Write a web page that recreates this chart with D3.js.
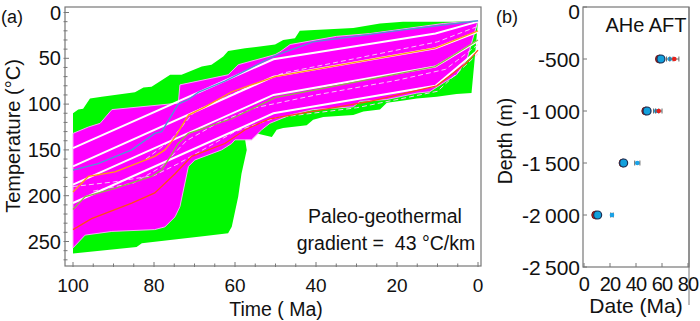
<!DOCTYPE html>
<meta charset="utf-8">
<html>
<style>
  body { margin: 0; background: #fff; }
  svg text { font-family: Arial, "Liberation Sans", sans-serif; fill: #111; }
  .frame { fill: none; stroke: #777; stroke-width: 1.2px; }
  .tick { stroke: #777; stroke-width: 1px; }
</style>
<body>
<svg width="700" height="321"></svg>
<script src="https://cdn.jsdelivr.net/npm/d3@7"></script>
<script>

// ---- panel (a): thermal history envelopes, [time Ma, temperature C]
var greenTop = [[100,110],[98.7,106],[97.5,105],[95.8,94],[92.9,92],[84.7,87],[82.6,82],[80.6,81],
  [76,68],[73.2,68],[68.2,59],[65.8,57],[62.9,48],[61.7,42],[57.5,39],[50.1,35],[48.1,30],
  [45.2,28],[44,20],[30.8,17],[24.2,12],[18.5,10],[6.2,10],[0,9]];
var greenBottom = [[0,9],[0.8,50],[1.6,88],[5.3,89],[10.2,92],[15.1,94],[18.4,96],[22.5,98.5],
  [24.2,106],[28.3,108],[30.8,112],[38.2,114],[40.7,117],[42.3,123],[48.1,126],[49.7,128],
  [50.9,136],[54.6,132],[57.5,139],[57.1,150],[58.4,176],[59.2,201],[60.8,234],[61.7,241],
  [67.4,244],[83,252],[84.3,256],[100,263]];
var magentaTop = [[100,132],[96.2,125],[93.3,121],[90.4,106],[74,99],[73.6,79],[61.7,68],
  [59.2,57],[50.1,46],[48.9,43],[46.4,35],[34.9,26],[26.7,23],[16.8,17],[8.6,12],[0,9]];
var magentaBottom = [[0,9],[2.8,52],[5.3,68],[8.6,77],[11.9,86.5],[15.1,88],[22.5,95],[29.1,97],
  [30.8,103],[40.7,106],[46.4,112],[51.4,121],[53.4,128],[55.9,139],[60,139],[60.8,143],
  [63.3,150],[69.9,161],[71.5,168],[73.6,212],[74.8,223],[77.3,234],[79.8,237],[90.4,239],
  [97,243],[100,257]];

// white lines: constant-gradient paths for the four samples
var whiteTimes = [100, 50.5, 10.5, 0];
var whiteTemps = [[148,51,23,10],[168,70,39,21],[188,90,59,31],[208,110,80,41]];

// best-fit paths
var bluePath = [[100,172],[93.8,165],[85.5,150],[79.8,132],[78.1,130],[74,100],[71.5,95],[69,87],
  [62.5,75],[56.3,61],[50.1,47],[40.7,32],[18.4,19],[0,9]];
var orangePath = [[100,196],[96.2,179],[89.6,174],[79.8,157],[77.3,150],[74.8,136],[71.5,112],
  [67.4,103],[60.8,86.5],[50.1,70],[10.6,39],[0,20]];
var olivePath = [[100,215],[97,201],[89.6,192],[80.6,179],[78.1,172],[76.5,161],[74,143],
  [71.5,132],[67.4,126],[60.8,116],[50.1,93],[10.6,59],[0,30]];
var redPath = [[100,237],[95.4,225],[85.5,208],[79.8,197],[74.8,176],[70.7,157],[62.5,143],
  [57.5,128],[51.4,116],[26.7,97],[10.2,80],[2.8,55],[0,41]];
var dashPaths = [
  [[82,160],[76,140],[70,108],[64,96],[56,80],[48,66],[30,50],[10,32],[0,15]],
  [[95,195],[85,186],[78,168],[72,140],[64,120],[55,104],[40,90],[20,74],[8,62],[0,35]],
  [[100,190],[90,185],[80,178],[74,165],[68,150],[60,130],[50,115],[30,104],[10,86],[0,45]]
];
var pathColors = ["#4f97d6", "#ff9e14", "#8fb547", "#ff4a1a"];

var xTicks = [100, 80, 60, 40, 20, 0];
var yTicks = [0, 50, 100, 150, 200, 250];

// ---- panel (b): ages vs depth
var depths = [-500, -1000, -1500, -2000];
var aheRed = [58, 47.5, 30, 9];
var aheBlue = [59.2, 48.5, 30.5, 10.5];
var aftBlue = [66, 55.5, 41, 21.5];
var aftErr = [2.5, 2, 2, 1];
var aftRed = [69.5, 57.5, null, null];
var aftRedErr = [3.5, 2.5, 0, 0];
var depthTicks = [0, -500, -1000, -1500, -2000, -2500];
var depthLabels = ["0", "-500", "-1\u2009000", "-1\u2009500", "-2\u2009000", "-2\u2009500"];
var dateTicks = [0, 20, 40, 60, 80];

var svg = d3.select("svg");

// ------------------ panel (a)
var x = d3.scaleLinear().domain([100, 0]).range([73, 478]);
var y = d3.scaleLinear().domain([0, 250]).range([12.5, 241.5]);
var fa = {l: 65, r: 481, t: 7, b: 266};

svg.append("clipPath").attr("id", "clipA").append("rect")
  .attr("x", fa.l).attr("y", fa.t).attr("width", fa.r - fa.l).attr("height", fa.b - fa.t);

var ga = svg.append("g").attr("clip-path", "url(#clipA)");
var line = d3.line().x(function(d) { return x(d[0]); }).y(function(d) { return y(d[1]); });

ga.append("path").attr("d", line(greenTop.concat(greenBottom)) + "Z").attr("fill", "#00f800");
ga.append("path").attr("d", line(magentaTop.concat(magentaBottom)) + "Z")
  .attr("fill", "#ff00ff").attr("stroke", "#f7a8f7").attr("stroke-width", 1);

dashPaths.forEach(function(p) {
  ga.append("path").attr("d", line(p)).attr("fill", "none")
    .attr("stroke", "#f6c8f6").attr("stroke-width", 1).attr("stroke-dasharray", "5,3");
});

whiteTemps.forEach(function(temps) {
  var pts = whiteTimes.map(function(t, i) { return [t, temps[i]]; });
  ga.append("path").attr("d", line(pts)).attr("fill", "none")
    .attr("stroke", "#fff").attr("stroke-width", 2);
});

[bluePath, orangePath, olivePath, redPath].forEach(function(p, i) {
  ga.append("path").attr("d", line(p)).attr("fill", "none")
    .attr("stroke", pathColors[i]).attr("stroke-width", 1.3);
});

svg.append("rect").attr("class", "frame")
  .attr("x", fa.l).attr("y", fa.t).attr("width", fa.r - fa.l).attr("height", fa.b - fa.t);

// small ticks
d3.range(0, 101, 5).forEach(function(v) {
  var len = v % 20 === 0 ? 4 : 2.5;
  svg.append("line").attr("class", "tick")
    .attr("x1", x(v)).attr("x2", x(v)).attr("y1", fa.b + 1).attr("y2", fa.b - len);
});
d3.range(0, 271, 10).forEach(function(v) {
  var len = v % 50 === 0 ? 4 : 2.5;
  svg.append("line").attr("class", "tick")
    .attr("x1", fa.l - 1.5).attr("x2", fa.l + len).attr("y1", y(v)).attr("y2", y(v));
});

svg.selectAll(".xla").data(xTicks).enter().append("text")
  .attr("x", function(d) { return x(d); }).attr("y", 292)
  .attr("text-anchor", "middle").attr("font-size", 19).text(function(d) { return d; });
svg.selectAll(".yla").data(yTicks).enter().append("text")
  .attr("x", 61).attr("y", function(d) { return y(d) + 7; })
  .attr("text-anchor", "end").attr("font-size", 20).text(function(d) { return d; });

svg.append("text").attr("x", 276).attr("y", 316).attr("text-anchor", "middle")
  .attr("font-size", 19.5).text("Time ( Ma)");
svg.append("text").attr("transform", "translate(20,136) rotate(-90)")
  .attr("text-anchor", "middle").attr("font-size", 20).text("Temperature (\u00b0C)");
svg.append("text").attr("x", 1).attr("y", 23).attr("font-size", 18).text("(a)");
svg.append("text").attr("x", 385).attr("y", 223).attr("text-anchor", "middle")
  .attr("font-size", 19.5).text("Paleo-geothermal");
svg.append("text").attr("x", 386).attr("y", 250).attr("text-anchor", "middle")
  .attr("font-size", 19.5).attr("xml:space", "preserve").text("gradient =  43 \u00b0C/km");

// ------------------ panel (b)
var xr = d3.scaleLinear().domain([0, 80]).range([584, 688]);
var yr = d3.scaleLinear().domain([-2500, 0]).range([267, 7]);

svg.append("rect").attr("class", "frame")
  .attr("x", xr(0) - 1).attr("y", yr(0)).attr("width", xr(80) - xr(0) + 2).attr("height", yr(-2500) - yr(0));
svg.append("line").attr("class", "tick").attr("x1", xr(80) + 1).attr("x2", xr(80) + 1)
  .attr("y1", yr(0)).attr("y2", 305);

depthTicks.forEach(function(v) {
  svg.append("line").attr("class", "tick")
    .attr("x1", xr(0) - 1).attr("x2", xr(0) + 3).attr("y1", yr(v)).attr("y2", yr(v));
});
dateTicks.forEach(function(v) {
  svg.append("line").attr("class", "tick")
    .attr("x1", xr(v)).attr("x2", xr(v)).attr("y1", yr(-2500)).attr("y2", yr(-2500) - 4);
});

svg.selectAll(".dl").data(depthTicks).enter().append("text")
  .attr("x", 580).attr("y", function(d) { return Math.max(yr(d) + 7.5, 19); })
  .attr("text-anchor", "end").attr("font-size", 21)
  .text(function(d, i) { return depthLabels[i]; });
svg.selectAll(".dtl").data(dateTicks).enter().append("text")
  .attr("x", function(d) { return xr(d); }).attr("y", 291)
  .attr("text-anchor", "middle").attr("font-size", 20).attr("letter-spacing", -0.8)
  .text(function(d) { return d; });

svg.append("text").attr("x", 636).attr("y", 313).attr("text-anchor", "middle")
  .attr("font-size", 21).text("Date (Ma)");
svg.append("text").attr("transform", "translate(512,141) rotate(-90)")
  .attr("text-anchor", "middle").attr("font-size", 19.5).text("Depth (m)");
svg.append("text").attr("x", 496).attr("y", 23).attr("font-size", 18).text("(b)");
svg.append("text").attr("x", 646).attr("y", 32).attr("text-anchor", "middle")
  .attr("font-size", 20).text("AHe AFT");

// AFT error bars and dots
depths.forEach(function(dp, i) {
  var cy = yr(dp);
  [[aftBlue[i], aftErr[i], "#1aa3e8"], [aftRed[i], aftRedErr[i], "#e8201a"]].forEach(function(s) {
    if (s[0] === null) return;
    svg.append("line").attr("x1", xr(s[0] - s[1])).attr("x2", xr(s[0] + s[1]))
      .attr("y1", cy).attr("y2", cy).attr("stroke", "#666").attr("stroke-width", 1);
    [s[0] - s[1], s[0] + s[1]].forEach(function(e) {
      svg.append("line").attr("x1", xr(e)).attr("x2", xr(e)).attr("y1", cy - 2.5).attr("y2", cy + 2.5)
        .attr("stroke", "#666").attr("stroke-width", 1);
    });
    svg.append("circle").attr("cx", xr(s[0])).attr("cy", cy).attr("r", 2.3).attr("fill", s[2]);
  });
  // AHe
  svg.append("circle").attr("cx", xr(aheRed[i])).attr("cy", cy).attr("r", 4)
    .attr("fill", "#c8201a").attr("stroke", "#5a1010").attr("stroke-width", 0.8);
  svg.append("circle").attr("cx", xr(aheBlue[i])).attr("cy", cy).attr("r", 4)
    .attr("fill", "#12a0dc").attr("stroke", "#1c2f55").attr("stroke-width", 1.2);
});

</script>
</body>
</html>
